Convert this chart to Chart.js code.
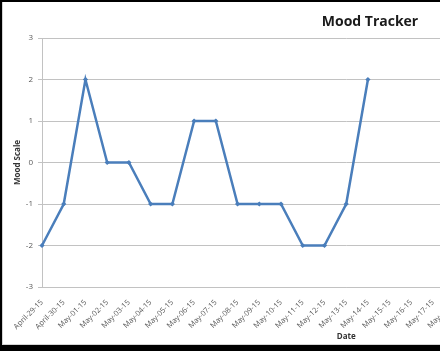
<!DOCTYPE html>
<html>
<head>
<meta charset="utf-8">
<script src="https://cdn.jsdelivr.net/npm/chart.js@4/dist/chart.umd.min.js"></script>
<style>
body{margin:0;background:#000;width:440px;height:351px;overflow:hidden;position:relative}
#cornice{position:absolute;left:2px;top:2px;width:460px;height:342px;background:#fff;border-left:1px solid #d4d4d4;border-bottom:1px solid #d4d4d4;overflow:hidden}
#grafico{position:absolute;left:0;top:0}
</style>
</head>
<body>
<div id="cornice"><canvas id="grafico" width="734" height="342"></canvas></div>
<script>
//date sull'asse x (il grafico originale e' piu' largo della finestra, si vede solo la parte sinistra)
var date=["April-29-15","April-30-15","May-01-15","May-02-15","May-03-15","May-04-15","May-05-15",
    "May-06-15","May-07-15","May-08-15","May-09-15","May-10-15","May-11-15","May-12-15","May-13-15",
    "May-14-15","May-15-15","May-16-15","May-17-15","May-18-15","May-19-15","May-20-15","May-21-15",
    "May-22-15","May-23-15","May-24-15","May-25-15","May-26-15","May-27-15"];
//valori dell'umore, null dove non c'e' ancora il dato
var umore=[-2,-1,2,0,0,-1,-1,1,1,-1,-1,-1,-2,-2,-1,2,null,null,null,null,null,null,null,null,null,null,null,null,null];
var tickY=[-3,-2,-1,0,1,2,3];

var blu="#4a7ebb";
var griglia="#c2c2c2";
var testo="#595959";

var ctx=document.getElementById("grafico").getContext("2d");
new Chart(ctx,{
    type:'line',
    data:{
        labels:date,
        datasets:[{
            label:'Mood',
            data:umore,
            borderColor:blu,
            backgroundColor:blu,
            borderWidth:2.5,
            pointStyle:'rectRot',
            pointRadius:2.6,
            pointBorderWidth:0,
            tension:0,
            spanGaps:false
        }]
    },
    options:{
        responsive:false,
        animation:false,
        layout:{padding:0},
        plugins:{
            legend:{display:false},
            tooltip:{enabled:false},
            title:{display:true,text:'Mood Tracker',color:'#1a1a1a',
                font:{family:"'Open Sans',sans-serif",size:14,weight:'bold'},
                padding:{top:11.4,bottom:7.8}}
        },
        scales:{
            x:{
                offset:false,
                grid:{display:false},
                border:{display:true,color:griglia},
                ticks:{color:testo,autoSkip:false,minRotation:45,maxRotation:45,padding:3,
                    font:{family:"'Open Sans',sans-serif",size:7.5}},
                title:{display:true,text:'Date',color:'#333',padding:{top:0,bottom:2},
                    font:{family:"'Open Sans',sans-serif",size:8,weight:'bold'}},
                afterFit:function(s){s.height=57;}
            },
            y:{
                min:tickY[0],max:tickY[tickY.length-1],
                afterBuildTicks:function(s){s.ticks=tickY.map(function(v){return {value:v};});},
                grid:{color:griglia,tickLength:4,lineWidth:1},
                border:{display:true,color:griglia},
                ticks:{color:testo,padding:5,font:{family:"'Open Sans',sans-serif",size:8}},
                title:{display:true,text:'Mood Scale',color:'#333',padding:{top:10,bottom:0},
                    font:{family:"'Open Sans',sans-serif",size:8,weight:'bold'}},
                afterFit:function(s){s.width=39;}
            },
            //asse vuoto a destra, serve solo a lasciare il margine del grafico originale
            margine:{
                position:'right',
                grid:{display:false},
                border:{display:false},
                ticks:{display:false},
                afterFit:function(s){s.width=86.6;}
            }
        }
    }
});
</script>
</body>
</html>
